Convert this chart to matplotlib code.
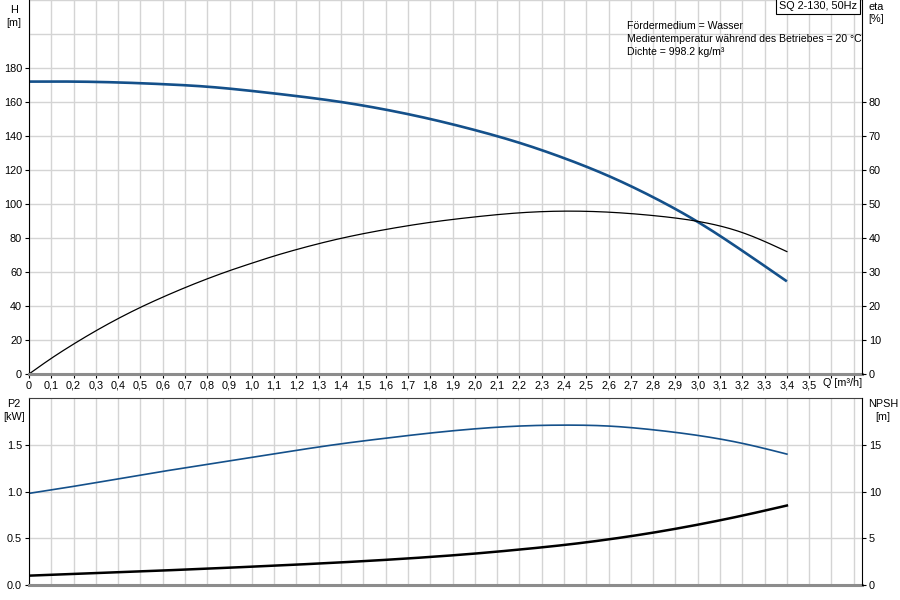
import numpy as np
import matplotlib
matplotlib.use("Agg")
import matplotlib.pyplot as plt
from matplotlib.ticker import FixedLocator

plt.rcParams['font.family'] = ['Liberation Sans', 'DejaVu Sans']
plt.rcParams['font.size'] = 7.8

# flow points [m3/h]
q = [0.0, 0.2, 0.4, 0.6, 0.8, 1.0, 1.2, 1.4, 1.6, 1.8, 2.0, 2.2, 2.4, 2.6, 2.8, 3.0, 3.2, 3.4]
# head H [m]
head = [172, 172, 171.5, 170.5, 169, 166.5, 163.5, 160, 155.5, 150, 143.5, 136, 127, 116.5, 104, 89.5, 72.5, 54.5]
# efficiency eta [%]
q_eta = [0.0, 0.1, 0.2, 0.3, 0.4, 0.5, 0.6, 0.7, 0.8, 0.9, 1.0, 1.1, 1.2, 1.4, 1.6, 1.8, 2.0, 2.2, 2.4, 2.6, 2.8, 3.0, 3.2, 3.4]
eta = [0, 4.6, 8.8, 12.7, 16.3, 19.6, 22.6, 25.4, 28, 30.4, 32.6, 34.7, 36.6, 39.9, 42.5, 44.6, 46.2, 47.4, 47.9, 47.6, 46.6, 44.9, 41.6, 36]
# shaft power P2 [kW]
p2 = [0.98, 1.055, 1.135, 1.215, 1.29, 1.365, 1.44, 1.51, 1.57, 1.625, 1.67, 1.70, 1.71, 1.70, 1.66, 1.60, 1.515, 1.40]
# NPSH [m]
npsh = [1.0, 1.18, 1.36, 1.55, 1.75, 1.96, 2.18, 2.42, 2.69, 3.0, 3.36, 3.79, 4.28, 4.88, 5.6, 6.45, 7.42, 8.5]

x_ticks = [round(0.1 * i, 1) for i in range(36)]
x_labels = ["0"] + [f"{v:.1f}".replace(".", ",") for v in x_ticks[1:]]

info_lines = ["Fördermedium = Wasser",
              "Medientemperatur während des Betriebes = 20 °C",
              "Dichte = 998.2 kg/m³"]
title_box = "SQ 2-130, 50Hz"

BLUE = "#14508a"
GRID = "#d4d4d4"
XMAX = 3.737


def spline(xs, ys, n=400):
    # natural cubic spline through the points
    x = np.asarray(xs, float)
    y = np.asarray(ys, float)
    m = len(x)
    h = np.diff(x)
    A = np.zeros((m, m))
    r = np.zeros(m)
    A[0, 0] = A[-1, -1] = 1
    for i in range(1, m - 1):
        A[i, i - 1] = h[i - 1]
        A[i, i] = 2 * (h[i - 1] + h[i])
        A[i, i + 1] = h[i]
        r[i] = 3 * ((y[i + 1] - y[i]) / h[i] - (y[i] - y[i - 1]) / h[i - 1])
    c = np.linalg.solve(A, r)
    xn = np.linspace(x[0], x[-1], n)
    idx = np.clip(np.searchsorted(x, xn) - 1, 0, m - 2)
    dx = xn - x[idx]
    b = (y[idx + 1] - y[idx]) / h[idx] - h[idx] * (2 * c[idx] + c[idx + 1]) / 3
    d = (c[idx + 1] - c[idx]) / (3 * h[idx])
    return xn, y[idx] + b * dx + c[idx] * dx ** 2 + d * dx ** 3


def style_axes(ax):
    ax.set_xlim(0, XMAX)
    ax.xaxis.set_major_locator(FixedLocator([0.1 * i for i in range(38)]))
    ax.grid(True, color=GRID, linewidth=1.0)
    ax.set_axisbelow(True)
    ax.spines['top'].set_visible(False)
    ax.spines['left'].set_color('black')
    ax.spines['right'].set_visible(False)
    ax.spines['bottom'].set_color('#8c8c8c')
    ax.spines['bottom'].set_linewidth(2.2)
    ax.tick_params(axis='both', direction='out', length=3, width=0.8, pad=2, colors='black')


def style_right(ax):
    for s in ['top', 'left', 'bottom']:
        ax.spines[s].set_visible(False)
    ax.spines['right'].set_color('black')
    ax.tick_params(axis='y', direction='out', length=3, width=0.8, pad=2)


fig = plt.figure(figsize=(9, 6), dpi=100)

# ---- top panel: head and efficiency ----
ax1 = fig.add_axes([29 / 900, 1 - 374 / 600, 833 / 900, 374 / 600])
style_axes(ax1)
ax1.set_ylim(0, 220)
ax1.set_yticks(range(0, 181, 20))
ax1.set_xticks(x_ticks + [3.6, 3.7])
ax1.set_xticklabels(x_labels + ["", ""])
for yv in (200, 220):
    ax1.axhline(yv, color=GRID, linewidth=1.0, zorder=0)

xs, ys = spline(q, head)
ax1.plot(xs, ys, color=BLUE, linewidth=1.9, solid_capstyle='butt')
xs, ys = spline(q_eta, eta)
ax1.plot(xs, ys * 2, color='black', linewidth=0.9)

ax1r = ax1.twinx()
ax1r.set_ylim(0, 110)
ax1r.set_yticks(range(0, 81, 10))
style_right(ax1r)

ax1.text(3.56, -9 / 374, "Q [m³/h]", transform=ax1.get_xaxis_transform(),
         ha='left', va='center')
ax1.text(2.683, 1 - 21 / 374, "\n".join(info_lines), transform=ax1.get_xaxis_transform(),
         ha='left', va='top', fontsize=7.6, linespacing=1.4)
ax1.text(0.994, 0.997, title_box, transform=ax1.transAxes, ha='right', va='top',
         bbox=dict(boxstyle='square,pad=0.3', fc='white', ec='black', lw=0.8))

fig.text(14 / 900, 1 - 10 / 600, "H", ha='center', va='center')
fig.text(14 / 900, 1 - 23 / 600, "[m]", ha='center', va='center')
fig.text(876 / 900, 1 - 7 / 600, "eta", ha='center', va='center')
fig.text(876 / 900, 1 - 19 / 600, "[%]", ha='center', va='center')

# ---- bottom panel: power and NPSH ----
ax2 = fig.add_axes([29 / 900, 15 / 600, 833 / 900, 187 / 600])
style_axes(ax2)
ax2.set_ylim(0, 2.0)
ax2.set_yticks([0, 0.5, 1.0, 1.5])
ax2.set_yticklabels(["0.0", "0.5", "1.0", "1.5"])
ax2.tick_params(axis='x', length=0, labelbottom=False)
ax2.spines['top'].set_visible(True)
ax2.spines['top'].set_color('#404040')

xs, ys = spline(q, p2)
ax2.plot(xs, ys, color=BLUE, linewidth=1.2)
xs, ys = spline(q, npsh)
ax2.plot(xs, ys / 10, color='black', linewidth=1.8)

ax2r = ax2.twinx()
ax2r.set_ylim(0, 20)
ax2r.set_yticks([0, 5, 10, 15])
style_right(ax2r)

fig.text(14 / 900, 1 - 404 / 600, "P2", ha='center', va='center')
fig.text(14 / 900, 1 - 417 / 600, "[kW]", ha='center', va='center')
fig.text(883 / 900, 1 - 404 / 600, "NPSH", ha='center', va='center')
fig.text(883 / 900, 1 - 417 / 600, "[m]", ha='center', va='center')

fig.savefig("out.png", dpi=100)
